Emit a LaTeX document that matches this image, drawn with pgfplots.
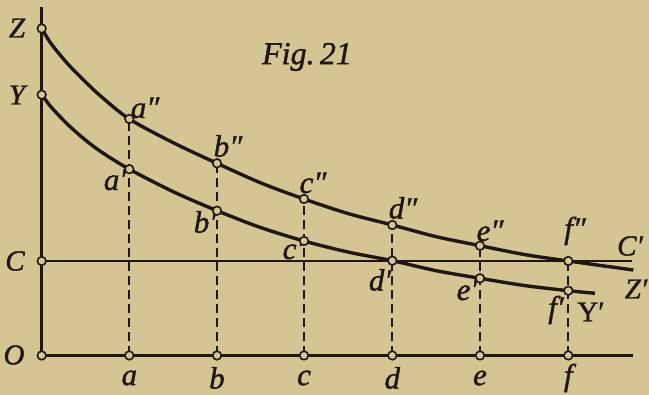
\documentclass[border=0pt]{standalone}
\usepackage{pgfplots}
\pgfplotsset{compat=1.18}
\usepackage{fontspec}
\setmainfont{Liberation Serif}
\newfontface\labit{Liberation Serif Italic}[FakeBold=1.3]
\newfontface\labup{Liberation Serif}[FakeBold=1.3]
\definecolor{paper}{RGB}{213,197,147}
\definecolor{ink}{RGB}{32,22,16}

% upper curve Z -- Z'
\pgfplotstableread{
x y
0 327
10 311
26.6 291
43.3 274
60 258.5
87.6 236.5
131.5 212.8
175.3 192.2
218.8 172.7
262.3 156.5
306.5 141.9
350.6 130.5
394.5 118.8
438.3 109.8
482.5 101.0
526.6 94.5
591.6 85.5
}\curveZ
% lower curve Y -- Y'
\pgfplotstableread{
x y
0 260.8
10 247.8
26.6 230.5
43.3 215.8
60 203.3
87.6 186.3
131.5 163.8
175.3 144.8
218.8 128.0
262.3 114.5
306.5 103.4
350.6 94.8
394.5 84.8
438.3 77.2
482.5 70.0
526.6 64.8
553.3 62.2
}\curveY

\begin{document}
\begin{tikzpicture}[
  lbl/.style={font=\fontsize{31}{34}\labit, text=ink, inner sep=0pt},
  caplbl/.style={font=\fontsize{29}{32}\labit, text=ink, inner sep=0pt},
]
\begin{axis}[
  x=1pt, y=1pt,
  xmin=-41.7, xmax=607.3, ymin=-39.5, ymax=355.5,
  axis lines=none, clip=false,
  every axis plot/.append style={ink},
]
\fill[paper] (rel axis cs:0,0) rectangle (rel axis cs:1,1);

% axes and the level line C -- C'
\addplot[line width=3pt, no marks] coordinates {(0,348.8) (0,0) (591.6,0)};
\addplot[line width=2.3pt, no marks] coordinates {(0,94.5) (590.3,94.5)};

% ordinates
\foreach \xx/\yy in {87.6/236.5,175.3/192.2,262.3/156.5,350.6/130.5,438.3/109.8,526.6/94.5}{
  \edef\tmp{\noexpand\addplot[line width=2.3pt, dash pattern=on 9.5pt off 4.5pt, no marks]
    coordinates {(\xx,0) (\xx,\yy)};}\tmp
}

% the two curves
\addplot[line width=3.4pt, smooth, tension=0.5, no marks] table[x=x,y=y] {\curveZ};
\addplot[line width=3.4pt, smooth, tension=0.5, no marks] table[x=x,y=y] {\curveY};

% small circles at the marked points
\addplot[only marks, mark=*, mark size=4.3pt,
  mark options={fill=paper, draw=ink, line width=1.6pt}] coordinates {
  (0,0) (0,94.5) (0,260.8) (0,327)
  (87.6,0) (175.3,0) (262.3,0) (350.6,0) (438.3,0) (526.6,0)
  (87.6,186.3) (175.3,144.8) (262.3,114.5) (350.6,94.8) (438.3,77.2) (526.6,64.8)
  (87.6,236.5) (175.3,192.2) (262.3,156.5) (350.6,130.5) (438.3,109.8) (526.6,94.5)
};

% lettering
\node[caplbl] at (axis cs:-24.7,327.5) {Z};
\node[caplbl] at (axis cs:-24.7,260.5) {Y};
\node[caplbl] at (axis cs:-26.7,94.5) {C};
\node[caplbl] at (axis cs:-27.7,0.5) {O};
\node[lbl] at (axis cs:103.3,247.5) {a″};
\node[lbl] at (axis cs:73.3,175.5) {a′};
\node[lbl] at (axis cs:186.3,209.5) {b″};
\node[lbl] at (axis cs:163.3,133.5) {b′};
\node[lbl] at (axis cs:271.3,172.5) {c″};
\node[lbl] at (axis cs:251.3,106.5) {c′};
\node[lbl] at (axis cs:361.3,147.5) {d″};
\node[lbl] at (axis cs:338.3,75.5) {d′};
\node[lbl] at (axis cs:448.3,124.5) {e″};
\node[lbl] at (axis cs:425.3,65.5) {e′};
\node[lbl] at (axis cs:533.3,124.5) {f″};
\node[lbl] at (axis cs:514.3,45.5) {f′};
\node[caplbl] at (axis cs:588.3,109.5) {C′};
\node[caplbl] at (axis cs:594.3,66.5) {Z′};
\node[caplbl, font=\fontsize{29}{32}\labup] at (axis cs:549.3,43.5) {Y′};
\node[lbl] at (axis cs:87.6,-22.5) {a};
\node[lbl] at (axis cs:175.3,-22.5) {b};
\node[lbl] at (axis cs:262.3,-22.5) {c};
\node[lbl] at (axis cs:350.6,-22.5) {d};
\node[lbl] at (axis cs:438.3,-22.5) {e};
\node[lbl] at (axis cs:526.6,-22.5) {f};
\node[font=\fontsize{32}{35}\labit, text=ink, inner sep=0pt]
  at (axis cs:265.3,298.5) {Fig.\,21};
\end{axis}
\end{tikzpicture}
\end{document}
